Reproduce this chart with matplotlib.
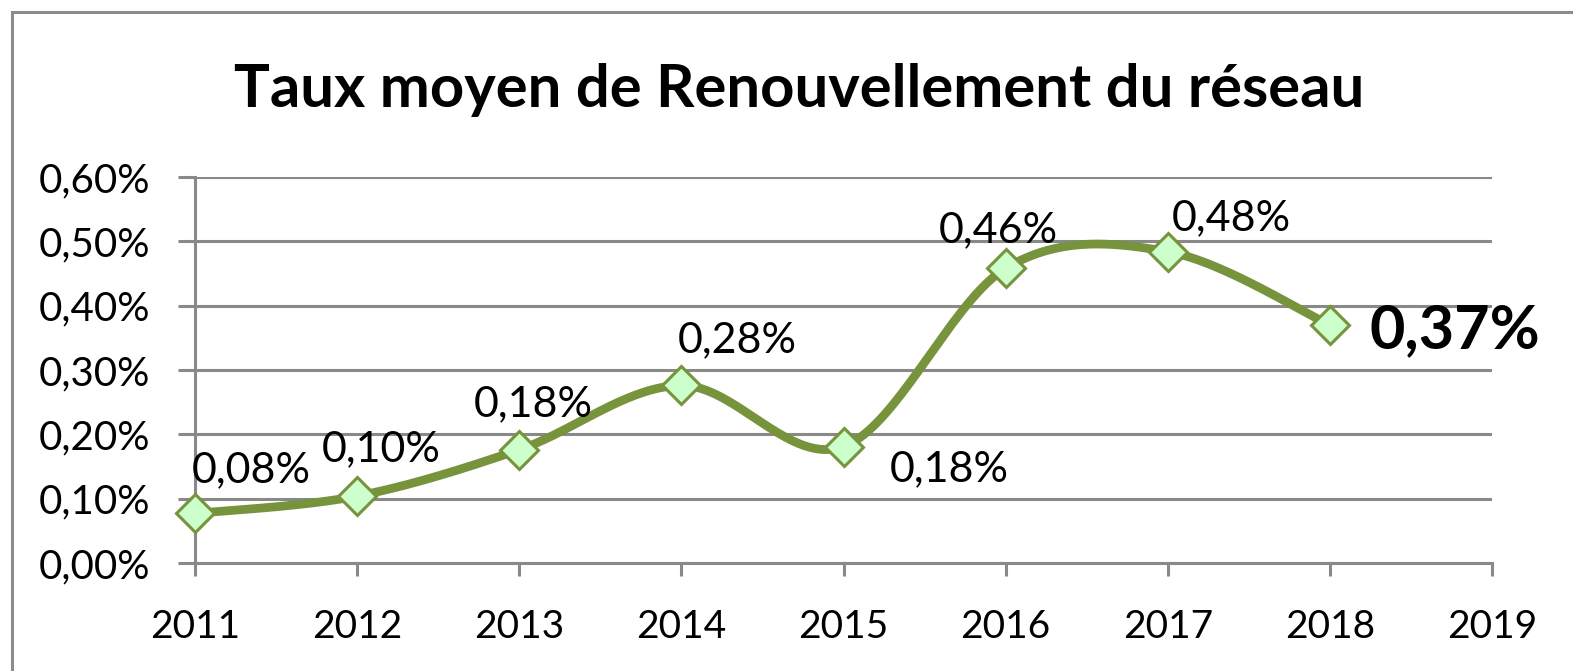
import numpy as np
import matplotlib.pyplot as plt
from matplotlib.patches import Rectangle

plt.rcParams['font.family'] = ['Lato', 'DejaVu Sans']

years = [2011, 2012, 2013, 2014, 2015, 2016, 2017, 2018]
rates = [0.077, 0.104, 0.176, 0.276, 0.181, 0.458, 0.484, 0.370]
yTicks = [0.0, 0.1, 0.2, 0.3, 0.4, 0.5, 0.6]
xTicks = [2011, 2012, 2013, 2014, 2015, 2016, 2017, 2018, 2019]

# label offsets (pixels) from each marker, roughly as Excel placed them
labelOffsets = [(56, 43), (24, 47), (14, 46), (56, 45), (106, -23),
                (-7, 38), (64, 33), (125, -5)]

lineColor = '#77933C'
markerFace = '#CCFFCC'
gridColor = '#898989'


def smooth_curve(xs, ys, sx, sy, n=40):
    # Catmull-Rom style bezier smoothing, done in screen-like units
    px = np.array(xs, dtype=float) * sx
    py = np.array(ys, dtype=float) * sy
    outX, outY = [], []
    for i in range(len(px) - 1):
        p0 = np.array([px[max(i - 1, 0)], py[max(i - 1, 0)]])
        p1 = np.array([px[i], py[i]])
        p2 = np.array([px[i + 1], py[i + 1]])
        p3 = np.array([px[min(i + 2, len(px) - 1)], py[min(i + 2, len(px) - 1)]])
        c1 = p1 + (p2 - p0) / 6
        c2 = p2 - (p3 - p1) / 6
        t = np.linspace(0, 1, n)[:, None]
        pts = ((1 - t) ** 3 * p1 + 3 * (1 - t) ** 2 * t * c1
               + 3 * (1 - t) * t ** 2 * c2 + t ** 3 * p2)
        outX.extend(pts[:, 0] / sx)
        outY.extend(pts[:, 1] / sy)
    return outX, outY


fig = plt.figure(figsize=(15.73, 6.71), dpi=100)
fig.patches.append(Rectangle((12 / 1573, -0.2), 1.2, 1.2 - 12 / 671,
                             transform=fig.transFigure, fill=False,
                             edgecolor='#8C8C8C', linewidth=2.2))

ax = fig.add_axes([195 / 1573, 1 - 563 / 671, (1492 - 195) / 1573, (563 - 177) / 671])

sx, sy = 162.0, 643.0
cx, cy = smooth_curve(years, rates, sx, sy)
ax.plot(cx, cy, color=lineColor, linewidth=6.3, solid_capstyle='round', zorder=3)
ax.plot(years, rates, linestyle='none', marker='D', markersize=19,
        markerfacecolor=markerFace, markeredgecolor=lineColor,
        markeredgewidth=2.2, zorder=4, clip_on=False)

for i in range(len(years)):
    txt = f"{rates[i]:.2f}".replace('.', ',') + '%'
    if i == len(years) - 1:
        ax.annotate(txt, (years[i], rates[i]), xytext=labelOffsets[i],
                    textcoords='offset pixels', ha='center', va='center',
                    fontsize=44, fontweight='bold', zorder=5)
    else:
        ax.annotate(txt, (years[i], rates[i]), xytext=labelOffsets[i],
                    textcoords='offset pixels', ha='center', va='center',
                    fontsize=31, zorder=5)

ax.set_xlim(2011, 2019)
ax.set_ylim(0, 0.6)
ax.set_xticks(xTicks)
ax.set_yticks(yTicks)
ax.set_yticklabels([f"{v:.2f}".replace('.', ',') + '%' for v in yTicks])
ax.grid(axis='y', color=gridColor, linewidth=2.2)
ax.set_axisbelow(True)

for s in ['top', 'right']:
    ax.spines[s].set_visible(False)
for s in ['left', 'bottom']:
    ax.spines[s].set_color(gridColor)
    ax.spines[s].set_linewidth(2.2)

ax.tick_params(axis='y', length=12, width=2.2, color=gridColor, pad=20, labelsize=29)
ax.tick_params(axis='x', length=9, width=2.2, color=gridColor, pad=24, labelsize=28)

fig.text(0.508, 1 - 90 / 671, 'Taux moyen de Renouvellement du réseau',
         ha='center', va='center', fontsize=43, fontweight='bold')

fig.savefig('out.png', dpi=100)
